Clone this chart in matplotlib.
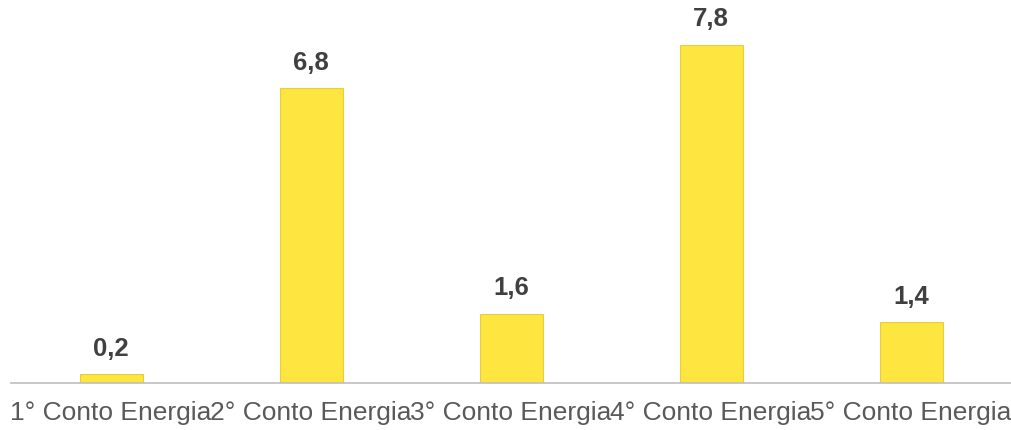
import matplotlib.pyplot as plt

categorie = ["1° Conto Energia", "2° Conto Energia", "3° Conto Energia",
             "4° Conto Energia", "5° Conto Energia"]
valori = [0.2, 6.8, 1.6, 7.8, 1.4]
etichette = ["0,2", "6,8", "1,6", "7,8", "1,4"]

plt.rcParams["font.family"] = ["Liberation Sans", "DejaVu Sans"]

fig = plt.figure(figsize=(10.11, 4.30), dpi=100)
ax = fig.add_axes([0.011, 0.109, 0.989, 0.891])

x = range(len(categorie))
barre = ax.bar(x, valori, width=0.315, color="#FFE540", edgecolor="#E8CF3A", linewidth=0.8)

for b, testo in zip(barre, etichette):
    ax.annotate(testo, (b.get_x() + b.get_width() / 2, b.get_height()),
                xytext=(0, 10), textcoords="offset points", ha="center", va="bottom",
                fontsize=18.5, fontweight="bold", color="#404040")

ax.set_xlim(-0.5, 4.5)
ax.set_ylim(0, 8.84)
ax.set_xticks(list(x))
ax.set_xticklabels(categorie, fontsize=19, color="#595959")
ax.tick_params(axis="x", length=0, pad=13)
ax.set_yticks([])
for s in ["top", "left", "right"]:
    ax.spines[s].set_visible(False)
ax.spines["bottom"].set_color("#BFBFBF")
ax.spines["bottom"].set_linewidth(1.2)

fig.savefig("out.png", dpi=100)
